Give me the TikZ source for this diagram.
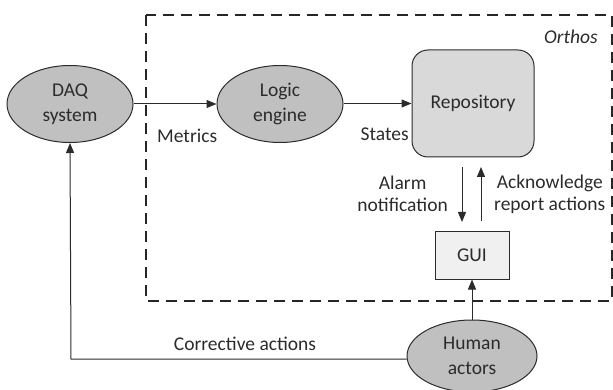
\documentclass[tikz,border=0pt]{standalone}
\usepackage{fontspec}
\setmainfont{Carlito}
\usetikzlibrary{shapes.geometric,arrows.meta}
\definecolor{ink}{HTML}{2B2B2B}
\definecolor{bubble}{HTML}{C0C0C0}
\definecolor{repofill}{HTML}{D9D9D9}
\definecolor{guifill}{HTML}{F0F0F0}
\tikzset{
  every node/.style={text=ink, font=\fontsize{19.5}{22}\selectfont},
  bubble/.style={ellipse, draw=ink, line width=1pt, fill=bubble, inner sep=0pt, align=center,
    font=\fontsize{19.5}{24.5}\selectfont},
  repo/.style={draw=ink, line width=1pt, fill=repofill, rounded corners=16pt, inner sep=0pt},
  guibox/.style={draw=ink, line width=1pt, fill=guifill, inner sep=0pt},
  flow/.style={draw=ink, line width=1pt, -{Triangle[length=10pt,width=8pt]}},
  border/.style={draw=black!85, line width=2.2pt, dash pattern=on 11pt off 7pt},
  lbl/.style={inner sep=0pt, align=center}
}
\begin{document}
\begin{tikzpicture}[x=1pt, y=-1pt]
  \useasboundingbox (0,0) rectangle (613,390);
  % Orthos boundary
  \draw[border] (146,15) rectangle (612,301);
  \node[lbl, font=\fontsize{19.5}{22}\selectfont\itshape, anchor=east] (orthos) at (598,37) {Orthos};

  % components
  \node[bubble, minimum width=126pt, minimum height=77pt] (daq) at (70,104) {DAQ\\system};
  \node[bubble, minimum width=126pt, minimum height=77pt] (logic) at (280,104) {Logic\\engine};
  \node[repo, minimum width=122pt, minimum height=107pt] (repo) at (473,103.5) {Repository};
  \node[guibox, minimum width=74pt, minimum height=47pt] (gui) at (472,255.5) {GUI};
  \node[bubble, minimum width=130pt, minimum height=72pt] (human) at (472,356) {Human\\actors};

  % data flow
  \draw[flow] (daq.east) -- (logic.west);
  \node[lbl, anchor=west] (metrics) at (157,136) {Metrics};
  \draw[flow] (logic.east |- repo.west) -- (repo.west);
  \node[lbl, anchor=east] (states) at (409,134) {States};

  \coordinate (alarmtop) at (462,167);
  \coordinate (alarmend) at (462,222);
  \coordinate (acktop) at (481,167);
  \coordinate (ackstart) at (481,221);
  \draw[flow] (alarmtop) -- (alarmend);
  \draw[flow] (ackstart) -- (acktop);
  \node[lbl, anchor=east] (alarm) at (448,194) {Alarm\\notification};
  \node[lbl, anchor=west] (ack) at (494,194) {Acknowledge\\report actions};

  \draw[flow] (human.north) -- (gui.south);

  \coordinate (corner) at (71,359);
  \draw[flow] (human.west |- corner) -- (corner) -- (daq.south);
  \node[lbl] (corrective) at (245,344) {Corrective actions};
\end{tikzpicture}
\end{document}
